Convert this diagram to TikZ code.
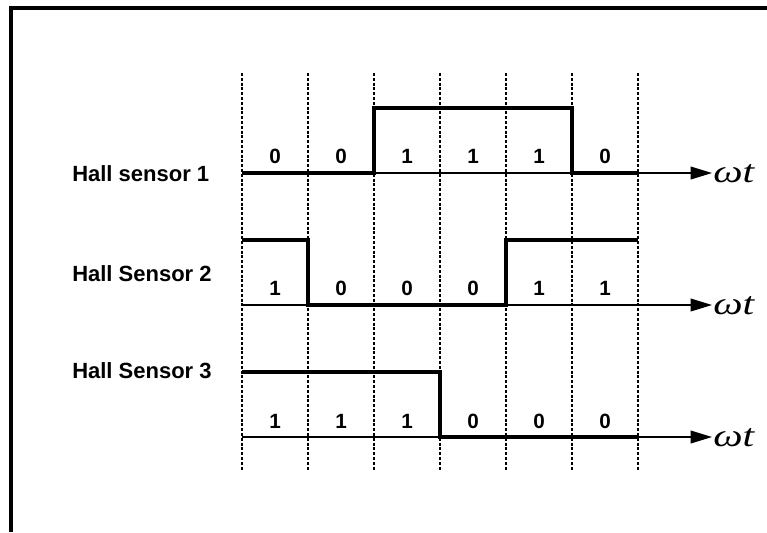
\documentclass[tikz,border=0pt]{standalone}
\usepackage{fontspec}
\usepackage{graphicx}
\setmainfont{Liberation Sans}
\newfontfamily\serifit{Liberation Serif}
\usetikzlibrary{arrows.meta}
\begin{document}
\begin{tikzpicture}[x=0.75pt,y=-0.75pt,
  gridline/.style={line width=1.8pt,dash pattern=on 2.2pt off 1.4pt},
  sig/.style={line width=2.7pt,line join=miter},
  axisline/.style={line width=1.1pt,-{Triangle[length=16pt,width=9.5pt]}},
  lab/.style={font=\fontsize{16.5}{19}\selectfont\bfseries,inner sep=0pt,anchor=base west},
  bit/.style={font=\fontsize{15.5}{18}\selectfont\bfseries,inner sep=0pt,anchor=base},
  wt/.style={font=\fontsize{24}{28}\selectfont\serifit\itshape,inner sep=0pt,anchor=base west}]
\useasboundingbox (0,0) rectangle (767,532);
% frame
\draw[line width=3pt] (11,532) -- (11,8) -- (767,8);
% grid coordinates
\foreach \i in {0,...,6}{
  \coordinate (t\i) at ({242+66*\i},73);
  \coordinate (b\i) at ({242+66*\i},471);
  \draw[gridline] (t\i) -- (b\i);
}
% sensor labels
\node[lab] (s1) at (72,181) {Hall sensor 1};
\node[lab] (s2) at (72,281) {Hall Sensor 2};
\node[lab] (s3) at (72,378) {Hall Sensor 3};
% omega t labels
\node[wt] (w1) at (713,182) {\scalebox{1.3}[1]{ωt}};
\node[wt] (w2) at (713,314) {\scalebox{1.3}[1]{ωt}};
\node[wt] (w3) at (713,446) {\scalebox{1.3}[1]{ωt}};
% axes
\coordinate (a1) at (242,173);
\coordinate (a2) at (242,305);
\coordinate (a3) at (242,437);
\coordinate (e1) at (712,173);
\coordinate (e2) at (712,305);
\coordinate (e3) at (712,437);
\draw[axisline] (a1) -- (e1);
\draw[axisline] (a2) -- (e2);
\draw[axisline] (a3) -- (e3);
% sensor 1 signal
\draw[sig] (242,173) -- (374,173) -- (374,108) -- (572,108) -- (572,173) -- (638,173);
% sensor 2 signal
\draw[sig] (242,240) -- (308,240) -- (308,305) -- (506,305) -- (506,240) -- (638,240);
% sensor 3 signal
\draw[sig] (242,372) -- (440,372) -- (440,437) -- (638,437);
% bits
\foreach \b [count=\k from 0] in {0,0,1,1,1,0}
  \node[bit] (p\k) at ({275+66*\k},163.5) {\b};
\foreach \b [count=\k from 0] in {1,0,0,0,1,1}
  \node[bit] (q\k) at ({275+66*\k},295.5) {\b};
\foreach \b [count=\k from 0] in {1,1,1,0,0,0}
  \node[bit] (r\k) at ({275+66*\k},428.5) {\b};
\end{tikzpicture}
\end{document}
